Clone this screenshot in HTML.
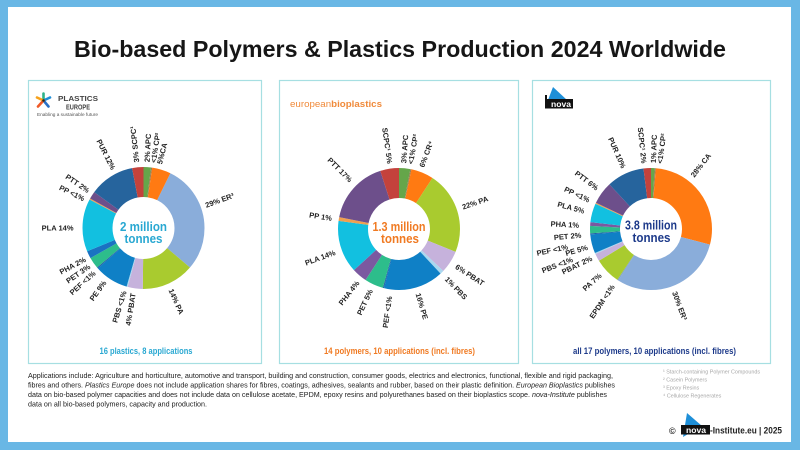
<!DOCTYPE html>
<html><head><meta charset="utf-8"><style>
html,body{margin:0;padding:0;background:#fff;}
svg{display:block;}
text{font-family:"Liberation Sans",Arial,sans-serif;}
.l{font-size:7.5px;font-weight:bold;fill:#222;}
.e{text-anchor:end;}
.fn{font-size:5.4px;fill:#a8a8a8;}
.ft{font-size:7.6px;fill:#222;}
</style></head><body>
<svg width="800" height="450" viewBox="0 0 800 450" xmlns="http://www.w3.org/2000/svg">
<rect x="0" y="0" width="800" height="450" fill="#69b7e5"/>
<rect x="8" y="7" width="783" height="435" fill="#ffffff"/>

<text x="400" y="57" text-anchor="middle" font-size="23" font-weight="bold" fill="#161616" textLength="652" lengthAdjust="spacingAndGlyphs">Bio-based Polymers &amp; Plastics Production 2024 Worldwide</text>

<rect x="28.5" y="80.5" width="233" height="283" fill="none" stroke="#a6dfe2" stroke-width="1.2"/>
<rect x="279.5" y="80.5" width="239" height="283" fill="none" stroke="#a6dfe2" stroke-width="1.2"/>
<rect x="532.5" y="80.5" width="238" height="283" fill="none" stroke="#a6dfe2" stroke-width="1.2"/>

<!-- Plastics Europe logo -->
<g stroke-width="2.6" stroke-linecap="round">
<line x1="43.5" y1="100.5" x2="43.5" y2="93.5" stroke="#2db38a"/>
<line x1="43.5" y1="100.5" x2="50" y2="97.5" stroke="#1f8fd8"/>
<line x1="43.5" y1="100.5" x2="48.5" y2="106.5" stroke="#2a70c6"/>
<line x1="43.5" y1="100.5" x2="38" y2="106.5" stroke="#f05a28"/>
<line x1="43.5" y1="100.5" x2="37" y2="97.5" stroke="#f7a21b"/>
</g>
<circle cx="43.5" cy="100.5" r="1.3" fill="#222"/>
<text x="58" y="101" font-size="7.4" font-weight="bold" fill="#444" textLength="40" lengthAdjust="spacingAndGlyphs">PLASTICS</text>
<text x="66" y="109.3" font-size="7.4" font-weight="bold" fill="#444" textLength="24" lengthAdjust="spacingAndGlyphs">EUROPE</text>
<text x="37" y="116" font-size="4.4" fill="#555" textLength="61" lengthAdjust="spacingAndGlyphs">Enabling a sustainable future</text>

<!-- european bioplastics logo -->
<text x="290" y="107" font-size="9" fill="#f08a3a" textLength="92" lengthAdjust="spacingAndGlyphs">european<tspan font-weight="bold">bioplastics</tspan></text>

<!-- nova logo -->
<polygon points="548,100 553,87 567,100" fill="#1e8fd8"/>
<rect x="545" y="99" width="28" height="9.5" fill="#111"/>
<rect x="545" y="95" width="2" height="13.5" fill="#111"/>
<text x="551" y="106.8" font-size="8.2" font-weight="bold" fill="#fff" textLength="20" lengthAdjust="spacingAndGlyphs">nova</text>

<!-- ===== Panel 1 donut ===== -->
<g fill="none" stroke-width="30" transform="rotate(-90 143.5 228)">
<circle cx="143.5" cy="228" r="46" pathLength="100.2" stroke="#65a64a" stroke-dasharray="2 100.2" stroke-dashoffset="0"/>
<circle cx="143.5" cy="228" r="46" pathLength="100.2" stroke="#9a7a50" stroke-dasharray="0.3 100.2" stroke-dashoffset="-2"/>
<circle cx="143.5" cy="228" r="46" pathLength="100.2" stroke="#ff7a12" stroke-dasharray="5 100.2" stroke-dashoffset="-2.3"/>
<circle cx="143.5" cy="228" r="46" pathLength="100.2" stroke="#8aadda" stroke-dasharray="29 100.2" stroke-dashoffset="-7.3"/>
<circle cx="143.5" cy="228" r="46" pathLength="100.2" stroke="#a9cb2f" stroke-dasharray="14 100.2" stroke-dashoffset="-36.3"/>
<circle cx="143.5" cy="228" r="46" pathLength="100.2" stroke="#c6b2dc" stroke-dasharray="4 100.2" stroke-dashoffset="-50.3"/>
<circle cx="143.5" cy="228" r="46" pathLength="100.2" stroke="#a9d8ef" stroke-dasharray="0.3 100.2" stroke-dashoffset="-54.3"/>
<circle cx="143.5" cy="228" r="46" pathLength="100.2" stroke="#0f80c6" stroke-dasharray="9 100.2" stroke-dashoffset="-54.6"/>
<circle cx="143.5" cy="228" r="46" pathLength="100.2" stroke="#1d5fa8" stroke-dasharray="0.3 100.2" stroke-dashoffset="-63.6"/>
<circle cx="143.5" cy="228" r="46" pathLength="100.2" stroke="#2dbd8b" stroke-dasharray="3 100.2" stroke-dashoffset="-63.9"/>
<circle cx="143.5" cy="228" r="46" pathLength="100.2" stroke="#1a72c2" stroke-dasharray="2 100.2" stroke-dashoffset="-66.9"/>
<circle cx="143.5" cy="228" r="46" pathLength="100.2" stroke="#12c0e0" stroke-dasharray="14 100.2" stroke-dashoffset="-68.9"/>
<circle cx="143.5" cy="228" r="46" pathLength="100.2" stroke="#f0a050" stroke-dasharray="0.3 100.2" stroke-dashoffset="-82.9"/>
<circle cx="143.5" cy="228" r="46" pathLength="100.2" stroke="#6d4f8b" stroke-dasharray="2 100.2" stroke-dashoffset="-83.2"/>
<circle cx="143.5" cy="228" r="46" pathLength="100.2" stroke="#26649d" stroke-dasharray="12 100.2" stroke-dashoffset="-85.2"/>
<circle cx="143.5" cy="228" r="46" pathLength="100.2" stroke="#c4423c" stroke-dasharray="3 100.2" stroke-dashoffset="-97.2"/>
</g>
<text x="143.5" y="231" text-anchor="middle" font-size="13" font-weight="bold" fill="#29a8d2" textLength="47" lengthAdjust="spacingAndGlyphs">2 million</text>
<text x="143.5" y="243" text-anchor="middle" font-size="13" font-weight="bold" fill="#29a8d2" textLength="38" lengthAdjust="spacingAndGlyphs">tonnes</text>

<g class="l">
<text transform="translate(143.5 228) rotate(264) translate(66 0)" dy="0.35em">3% SCPC¹</text>
<text transform="translate(143.5 228) rotate(-87) translate(66 0)" dy="0.35em">2% APC</text>
<text transform="translate(143.5 228) rotate(-81.5) translate(66 0)" dy="0.35em">&lt;1% CP²</text>
<text transform="translate(143.5 228) rotate(-76) translate(66 0)" dy="0.35em">5%CA</text>
<text transform="translate(143.5 228) rotate(-20) translate(66 0)" dy="0.35em">29% ER³</text>
<text transform="translate(143.5 228) rotate(66) translate(67 0)" dy="0.35em">14% PA</text>
<text class="e" transform="translate(143.5 228) rotate(99) translate(66 0) rotate(180)" dy="0.35em">4% PBAT</text>
<text class="e" transform="translate(143.5 228) rotate(107) translate(66 0) rotate(180)" dy="0.35em">PBS &lt;1%</text>
<text class="e" transform="translate(143.5 228) rotate(126) translate(66 0) rotate(180)" dy="0.35em">PE 9%</text>
<text class="e" transform="translate(143.5 228) rotate(138) translate(66 0) rotate(180)" dy="0.35em">PEF &lt;1%</text>
<text class="e" transform="translate(143.5 228) rotate(145) translate(66 0) rotate(180)" dy="0.35em">PET 3%</text>
<text class="e" transform="translate(143.5 228) rotate(152) translate(66 0) rotate(180)" dy="0.35em">PHA 2%</text>
<text class="e" transform="translate(143.5 228) rotate(180) translate(70 0) rotate(180)" dy="0.35em">PLA 14%</text>
<text class="e" transform="translate(143.5 228) rotate(206) translate(66 0) rotate(180)" dy="0.35em">PP &lt;1%</text>
<text class="e" transform="translate(143.5 228) rotate(214) translate(66 0) rotate(180)" dy="0.35em">PTT 2%</text>
<text class="e" transform="translate(143.5 228) rotate(243) translate(66 0) rotate(180)" dy="0.35em">PUR 12%</text>
</g>
<text x="146" y="354" text-anchor="middle" font-size="9" font-weight="bold" fill="#29a8d2" textLength="93" lengthAdjust="spacingAndGlyphs">16 plastics, 8 applications</text>

<!-- ===== Panel 2 donut ===== -->
<g fill="none" stroke-width="30" transform="rotate(-90 399 229)">
<circle cx="399" cy="229" r="46" pathLength="100.6" stroke="#65a64a" stroke-dasharray="3 100.6" stroke-dashoffset="0"/>
<circle cx="399" cy="229" r="46" pathLength="100.6" stroke="#9a7a50" stroke-dasharray="0.3 100.6" stroke-dashoffset="-3"/>
<circle cx="399" cy="229" r="46" pathLength="100.6" stroke="#ff7a12" stroke-dasharray="6 100.6" stroke-dashoffset="-3.3"/>
<circle cx="399" cy="229" r="46" pathLength="100.6" stroke="#a9cb2f" stroke-dasharray="22 100.6" stroke-dashoffset="-9.3"/>
<circle cx="399" cy="229" r="46" pathLength="100.6" stroke="#c6b2dc" stroke-dasharray="6 100.6" stroke-dashoffset="-31.3"/>
<circle cx="399" cy="229" r="46" pathLength="100.6" stroke="#a9d8ef" stroke-dasharray="1 100.6" stroke-dashoffset="-37.3"/>
<circle cx="399" cy="229" r="46" pathLength="100.6" stroke="#0f80c6" stroke-dasharray="16 100.6" stroke-dashoffset="-38.3"/>
<circle cx="399" cy="229" r="46" pathLength="100.6" stroke="#1d5fa8" stroke-dasharray="0.3 100.6" stroke-dashoffset="-54.3"/>
<circle cx="399" cy="229" r="46" pathLength="100.6" stroke="#2dbd8b" stroke-dasharray="5 100.6" stroke-dashoffset="-54.6"/>
<circle cx="399" cy="229" r="46" pathLength="100.6" stroke="#7b59a0" stroke-dasharray="4 100.6" stroke-dashoffset="-59.6"/>
<circle cx="399" cy="229" r="46" pathLength="100.6" stroke="#12c0e0" stroke-dasharray="14 100.6" stroke-dashoffset="-63.6"/>
<circle cx="399" cy="229" r="46" pathLength="100.6" stroke="#f0a050" stroke-dasharray="1 100.6" stroke-dashoffset="-77.6"/>
<circle cx="399" cy="229" r="46" pathLength="100.6" stroke="#6d4f8b" stroke-dasharray="17 100.6" stroke-dashoffset="-78.6"/>
<circle cx="399" cy="229" r="46" pathLength="100.6" stroke="#c4423c" stroke-dasharray="5 100.6" stroke-dashoffset="-95.6"/>
</g>
<text x="399" y="231" text-anchor="middle" font-size="13" font-weight="bold" fill="#f07a22" textLength="53" lengthAdjust="spacingAndGlyphs">1.3 million</text>
<text x="400" y="243" text-anchor="middle" font-size="13" font-weight="bold" fill="#f07a22" textLength="38" lengthAdjust="spacingAndGlyphs">tonnes</text>

<g class="l">
<text class="e" transform="translate(399 229) rotate(262) translate(66 0) rotate(180)" dy="0.35em">SCPC¹ 5%</text>
<text transform="translate(399 229) rotate(-86) translate(66 0)" dy="0.35em">3% APC</text>
<text transform="translate(399 229) rotate(-80) translate(66 0)" dy="0.35em">&lt;1% CP²</text>
<text transform="translate(399 229) rotate(-70) translate(66 0)" dy="0.35em">6% CR⁴</text>
<text transform="translate(399 229) rotate(-19) translate(67 0)" dy="0.35em">22% PA</text>
<text transform="translate(399 229) rotate(33) translate(68 0)" dy="0.35em">6% PBAT</text>
<text transform="translate(399 229) rotate(46) translate(68 0)" dy="0.35em">1% PBS</text>
<text transform="translate(399 229) rotate(73.5) translate(67 0)" dy="0.35em">16% PE</text>
<text class="e" transform="translate(399 229) rotate(98) translate(68 0) rotate(180)" dy="0.35em">PEF &lt;1%</text>
<text class="e" transform="translate(399 229) rotate(115) translate(67 0) rotate(180)" dy="0.35em">PET 5%</text>
<text class="e" transform="translate(399 229) rotate(128) translate(67 0) rotate(180)" dy="0.35em">PHA 4%</text>
<text class="e" transform="translate(399 229) rotate(160) translate(68 0) rotate(180)" dy="0.35em">PLA 14%</text>
<text class="e" transform="translate(399 229) rotate(189) translate(68 0) rotate(180)" dy="0.35em">PP 1%</text>
<text class="e" transform="translate(399 229) rotate(225) translate(68 0) rotate(180)" dy="0.35em">PTT 17%</text>
</g>
<text x="399.5" y="354" text-anchor="middle" font-size="9" font-weight="bold" fill="#f07a22" textLength="151" lengthAdjust="spacingAndGlyphs">14 polymers, 10 applications (incl. fibres)</text>

<!-- ===== Panel 3 donut ===== -->
<g fill="none" stroke-width="30" transform="rotate(-90 651 229)">
<circle cx="651" cy="229" r="46" pathLength="100.5" stroke="#65a64a" stroke-dasharray="1 100.5" stroke-dashoffset="0"/>
<circle cx="651" cy="229" r="46" pathLength="100.5" stroke="#9a7a50" stroke-dasharray="0.3 100.5" stroke-dashoffset="-1"/>
<circle cx="651" cy="229" r="46" pathLength="100.5" stroke="#ff7a12" stroke-dasharray="28 100.5" stroke-dashoffset="-1.3"/>
<circle cx="651" cy="229" r="46" pathLength="100.5" stroke="#8aadda" stroke-dasharray="30 100.5" stroke-dashoffset="-29.3"/>
<circle cx="651" cy="229" r="46" pathLength="100.5" stroke="#7fa0c8" stroke-dasharray="0.3 100.5" stroke-dashoffset="-59.3"/>
<circle cx="651" cy="229" r="46" pathLength="100.5" stroke="#a9cb2f" stroke-dasharray="7 100.5" stroke-dashoffset="-59.6"/>
<circle cx="651" cy="229" r="46" pathLength="100.5" stroke="#c6b2dc" stroke-dasharray="2 100.5" stroke-dashoffset="-66.6"/>
<circle cx="651" cy="229" r="46" pathLength="100.5" stroke="#a9d8ef" stroke-dasharray="0.3 100.5" stroke-dashoffset="-68.6"/>
<circle cx="651" cy="229" r="46" pathLength="100.5" stroke="#0f80c6" stroke-dasharray="5 100.5" stroke-dashoffset="-68.9"/>
<circle cx="651" cy="229" r="46" pathLength="100.5" stroke="#1d5fa8" stroke-dasharray="0.3 100.5" stroke-dashoffset="-73.9"/>
<circle cx="651" cy="229" r="46" pathLength="100.5" stroke="#2dbd8b" stroke-dasharray="2 100.5" stroke-dashoffset="-74.2"/>
<circle cx="651" cy="229" r="46" pathLength="100.5" stroke="#7b59a0" stroke-dasharray="1 100.5" stroke-dashoffset="-76.2"/>
<circle cx="651" cy="229" r="46" pathLength="100.5" stroke="#12c0e0" stroke-dasharray="5 100.5" stroke-dashoffset="-77.2"/>
<circle cx="651" cy="229" r="46" pathLength="100.5" stroke="#f0a050" stroke-dasharray="0.3 100.5" stroke-dashoffset="-82.2"/>
<circle cx="651" cy="229" r="46" pathLength="100.5" stroke="#6d4f8b" stroke-dasharray="6 100.5" stroke-dashoffset="-82.5"/>
<circle cx="651" cy="229" r="46" pathLength="100.5" stroke="#26649d" stroke-dasharray="10 100.5" stroke-dashoffset="-88.5"/>
<circle cx="651" cy="229" r="46" pathLength="100.5" stroke="#c4423c" stroke-dasharray="2 100.5" stroke-dashoffset="-98.5"/>
</g>
<text x="651" y="229.5" text-anchor="middle" font-size="13" font-weight="bold" fill="#1d3a8a" textLength="52" lengthAdjust="spacingAndGlyphs">3.8 million</text>
<text x="651.5" y="242" text-anchor="middle" font-size="13" font-weight="bold" fill="#1d3a8a" textLength="38" lengthAdjust="spacingAndGlyphs">tonnes</text>

<g class="l">
<text class="e" transform="translate(651 229) rotate(264) translate(66 0) rotate(180)" dy="0.35em">SCPC¹ 2%</text>
<text transform="translate(651 229) rotate(-88) translate(66 0)" dy="0.35em">1% APC</text>
<text transform="translate(651 229) rotate(-82.5) translate(66 0)" dy="0.35em">&lt;1% CP²</text>
<text transform="translate(651 229) rotate(-52) translate(67 0)" dy="0.35em">28% CA</text>
<text transform="translate(651 229) rotate(69.5) translate(67 0)" dy="0.35em">30% ER³</text>
<text class="e" transform="translate(651 229) rotate(124) translate(68 0) rotate(180)" dy="0.35em">EPDM &lt;1%</text>
<text class="e" transform="translate(651 229) rotate(138) translate(68 0) rotate(180)" dy="0.35em">PA 7%</text>
<text class="e" transform="translate(651 229) rotate(159) translate(84 0) rotate(180)" dy="0.35em">PBS &lt;1%</text>
<text class="e" transform="translate(651 229) rotate(154) translate(66 0) rotate(180)" dy="0.35em">PBAT 2%</text>
<text class="e" transform="translate(651 229) rotate(164) translate(66 0) rotate(180)" dy="0.35em">PE 5%</text>
<text class="e" transform="translate(651 229) rotate(168) translate(85 0) rotate(180)" dy="0.35em">PEF &lt;1%</text>
<text class="e" transform="translate(651 229) rotate(175) translate(70 0) rotate(180)" dy="0.35em">PET 2%</text>
<text class="e" transform="translate(651 229) rotate(183) translate(72 0) rotate(180)" dy="0.35em">PHA 1%</text>
<text class="e" transform="translate(651 229) rotate(195) translate(69 0) rotate(180)" dy="0.35em">PLA 5%</text>
<text class="e" transform="translate(651 229) rotate(205) translate(68 0) rotate(180)" dy="0.35em">PP &lt;1%</text>
<text class="e" transform="translate(651 229) rotate(217) translate(67 0) rotate(180)" dy="0.35em">PTT 6%</text>
<text class="e" transform="translate(651 229) rotate(246) translate(67 0) rotate(180)" dy="0.35em">PUR 10%</text>
</g>
<text x="654.5" y="354" text-anchor="middle" font-size="9" font-weight="bold" fill="#1d3a8a" textLength="163" lengthAdjust="spacingAndGlyphs">all 17 polymers, 10 applications (incl. fibres)</text>

<!-- footer text -->
<text class="ft" x="28" y="378" textLength="585" lengthAdjust="spacingAndGlyphs">Applications include: Agriculture and horticulture, automotive and transport, building and construction, consumer goods, electrics and electronics, functional, flexible and rigid packaging,</text>
<text class="ft" x="28" y="387.5" textLength="587" lengthAdjust="spacingAndGlyphs">fibres and others. <tspan font-style="italic">Plastics Europe</tspan> does not include application shares for fibres, coatings, adhesives, sealants and rubber, based on their plastic definition. <tspan font-style="italic">European Bioplastics</tspan> publishes</text>
<text class="ft" x="28" y="397" textLength="579" lengthAdjust="spacingAndGlyphs">data on bio-based polymer capacities and does not include data on cellulose acetate, EPDM, epoxy resins and polyurethanes based on their bioplastics scope. <tspan font-style="italic">nova-Institute</tspan> publishes</text>
<text class="ft" x="28" y="406.5" textLength="179" lengthAdjust="spacingAndGlyphs">data on all bio-based polymers, capacity and production.</text>

<text class="fn" x="663" y="373.5">¹ Starch-containing Polymer Compounds</text>
<text class="fn" x="663" y="381.5">² Casein Polymers</text>
<text class="fn" x="663" y="389.5">³ Epoxy Resins</text>
<text class="fn" x="663" y="397.5">⁴ Cellulose Regenerates</text>

<!-- copyright -->
<text x="669" y="434" font-size="9" font-weight="bold" fill="#222">©</text>
<polygon points="683,437 687,413 702,426" fill="#1e8fd8"/>
<rect x="681" y="425" width="29" height="9.5" fill="#111"/>
<text x="686" y="432.8" font-size="8" font-weight="bold" fill="#fff" textLength="20" lengthAdjust="spacingAndGlyphs">nova</text>
<text x="710" y="433.5" font-size="9" font-weight="bold" fill="#222" textLength="72" lengthAdjust="spacingAndGlyphs">-Institute.eu | 2025</text>
</svg>
</body></html>
